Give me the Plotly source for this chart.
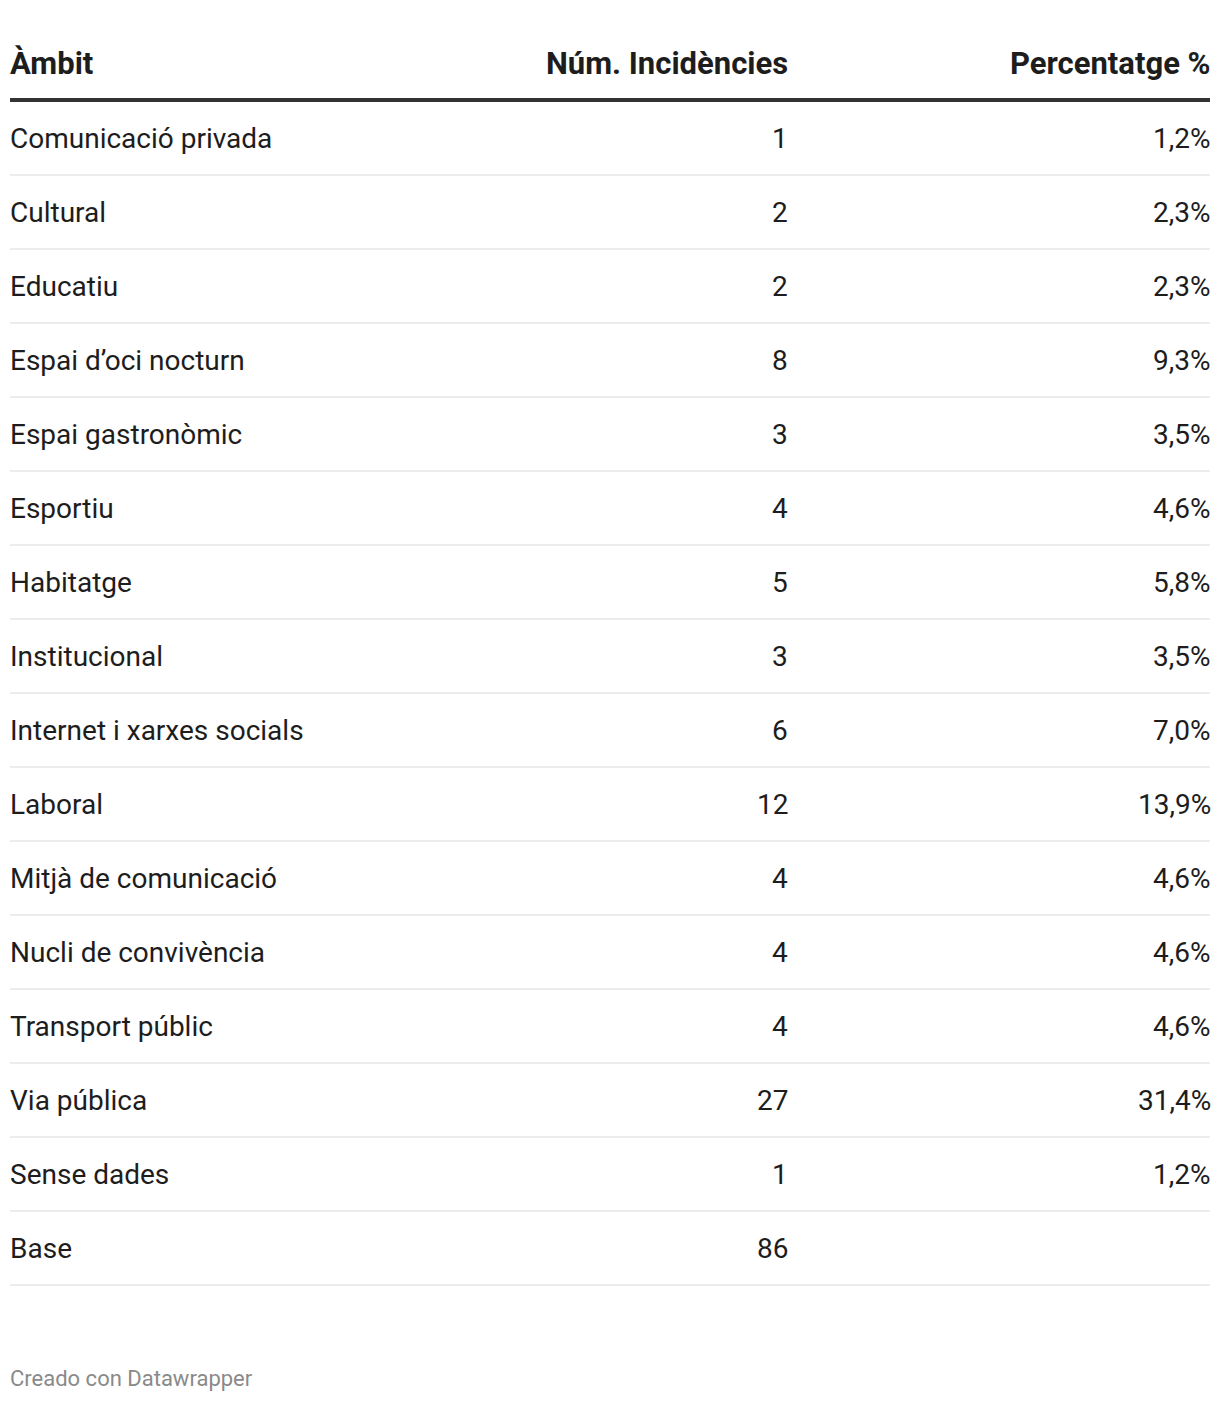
import plotly.graph_objects as go

headers = ["Àmbit", "Núm. Incidències", "Percentatge %"]
ambits = ["Comunicació privada", "Cultural", "Educatiu", "Espai d’oci nocturn",
          "Espai gastronòmic", "Esportiu", "Habitatge", "Institucional",
          "Internet i xarxes socials", "Laboral", "Mitjà de comunicació",
          "Nucli de convivència", "Transport públic", "Via pública",
          "Sense dades", "Base"]
incidencies = ["1", "2", "2", "8", "3", "4", "5", "3", "6", "12", "4", "4", "4", "27", "1", "86"]
percentatges = ["1,2%", "2,3%", "2,3%", "9,3%", "3,5%", "4,6%", "5,8%", "3,5%",
                "7,0%", "13,9%", "4,6%", "4,6%", "4,6%", "31,4%", "1,2%", ""]
footer = "Creado con Datawrapper"

# page has an 8px body margin: figure is sized/offset to compensate
OFF = 8
W, H = 1204, 1386
LEFT, MID, RIGHT = 10 - OFF, 788 - OFF, 1210 - OFF
HEAD_Y = 63 - OFF
LINE_Y = 100 - OFF
ROW0 = 138 - OFF
ROW_H = 74
FOOT_Y = 1378 - OFF
FONT = "Roboto, 'Open Sans', sans-serif"
PAD = 2  # compensates annotation inner padding

fig = go.Figure()
fig.add_trace(go.Scatter(x=[0, W], y=[0, H], mode="markers",
                         marker=dict(opacity=0), hoverinfo="skip", showlegend=False))

ann = []
xs = [LEFT, MID, RIGHT]
anchors = ["left", "right", "right"]
shifts = [-PAD, PAD, PAD + 1]
for h, x, a, s in zip(headers, xs, anchors, shifts):
    ann.append(dict(x=x, y=HEAD_Y, text=f"<b>{h}</b>", xanchor=a, yanchor="middle",
                    xshift=s, showarrow=False,
                    font=dict(family=FONT, size=31, color="#1d1d1d")))

shapes = [dict(type="line", x0=LEFT, x1=RIGHT, y0=LINE_Y, y1=LINE_Y,
               line=dict(color="#333333", width=4), xref="x", yref="y")]

for i, (am, inc, pc) in enumerate(zip(ambits, incidencies, percentatges)):
    yc = ROW0 + ROW_H * i
    for t, x, a, s in zip([am, inc, pc], xs, anchors, shifts):
        if t:
            ann.append(dict(x=x, y=yc, text=t, xanchor=a, yanchor="middle",
                            xshift=s, showarrow=False,
                            font=dict(family=FONT, size=28, color="#1d1d1d")))
    ysep = yc + ROW_H / 2
    shapes.append(dict(type="line", x0=LEFT, x1=RIGHT, y0=ysep, y1=ysep,
                       line=dict(color="#e6e6e6", width=1.5), xref="x", yref="y"))

ann.append(dict(x=LEFT, y=FOOT_Y, text=footer, xanchor="left", yanchor="middle",
                xshift=-PAD, showarrow=False,
                font=dict(family=FONT, size=22, color="#8a8a8a")))

fig.update_layout(
    width=W, height=H, margin=dict(l=0, r=0, t=0, b=0),
    paper_bgcolor="white", plot_bgcolor="white",
    xaxis=dict(range=[0, W], visible=False, fixedrange=True),
    yaxis=dict(range=[H, 0], visible=False, fixedrange=True),
    annotations=ann, shapes=shapes, showlegend=False,
)

fig.write_html("out.html")
